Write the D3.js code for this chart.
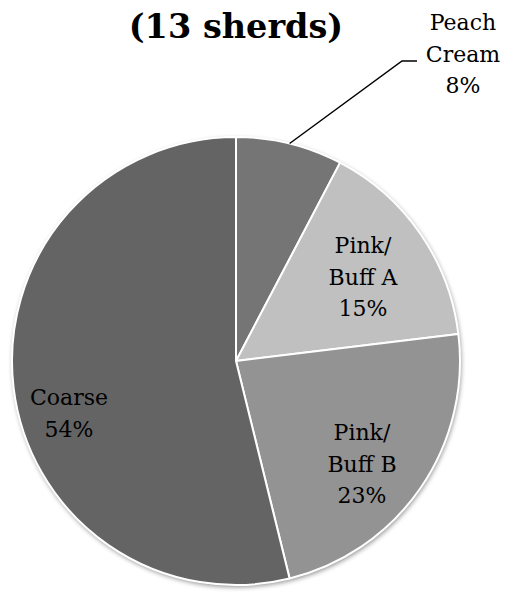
<!DOCTYPE html>
<html><head><meta charset="utf-8">
<script src="https://cdn.jsdelivr.net/npm/d3@7"></script>
<style>body{margin:0;background:#fff}svg{display:block}</style>
</head><body>
<script>
const title = "(13 sherds)";
const categories = ["Peach Cream", "Pink/Buff A", "Pink/Buff B", "Coarse"];
const counts = [1, 2, 3, 7];
const labelLines = [["Peach", "Cream", "8%"], ["Pink/", "Buff A", "15%"], ["Pink/", "Buff B", "23%"], ["Coarse", "54%"]];
const colors = ["#757575", "#c0c0c0", "#939393", "#646464"];

const W = 505, H = 593;
const cx = 236, cy = 361, R = 224;
const font = "'DejaVu Serif', Georgia, serif";

const svg = d3.select("body").append("svg").attr("width", W).attr("height", H);
const defs = svg.append("defs");
const f = defs.append("filter").attr("id", "sh").attr("x", "-10%").attr("y", "-10%").attr("width", "120%").attr("height", "120%");
f.append("feGaussianBlur").attr("in", "SourceAlpha").attr("stdDeviation", 2.5);
f.append("feOffset").attr("dx", 1).attr("dy", 2).attr("result", "b");
f.append("feComponentTransfer").append("feFuncA").attr("type", "linear").attr("slope", 0.45);
const m = f.append("feMerge"); m.append("feMergeNode"); m.append("feMergeNode").attr("in", "SourceGraphic");

svg.append("text").attr("x", cx).attr("y", 38).attr("text-anchor", "middle")
  .attr("font-family", font).attr("font-weight", "bold").attr("font-size", 33.5).attr("fill", "#000").text(title);

const pie = d3.pie().sort(null).value(d => d);
const arcs = pie(counts);
const arc = d3.arc().innerRadius(0).outerRadius(R);
const g = svg.append("g").attr("transform", `translate(${cx},${cy})`);
g.append("circle").attr("r", R).attr("fill", "#fff").attr("filter", "url(#sh)");
g.selectAll("path").data(arcs).enter().append("path")
  .attr("d", arc).attr("fill", (d, i) => colors[i]).attr("stroke", "#fff").attr("stroke-width", 2).attr("stroke-linejoin", "round");

// label positions (center x, first baseline y) in page coords
const labelPos = [[463, 30], [363, 253], [362, 440], [69, 405]];
const lh = 31.5;
labelLines.forEach((lines, i) => {
  const t = svg.append("text").attr("text-anchor", "middle").attr("font-family", font)
    .attr("font-size", 22).attr("fill", "#000");
  lines.forEach((s, j) => t.append("tspan").attr("x", labelPos[i][0]).attr("y", labelPos[i][1] + j * lh).text(s));
});

// leader line for Peach Cream
const a0 = arcs[0];
const mid = (a0.startAngle + a0.endAngle) / 2;
const px = cx + R * Math.sin(mid), py = cy - R * Math.cos(mid);
svg.append("path").attr("d", `M${px},${py}L402,61L417,61`).attr("fill", "none").attr("stroke", "#000").attr("stroke-width", 1.5);
</script>
</body></html>
